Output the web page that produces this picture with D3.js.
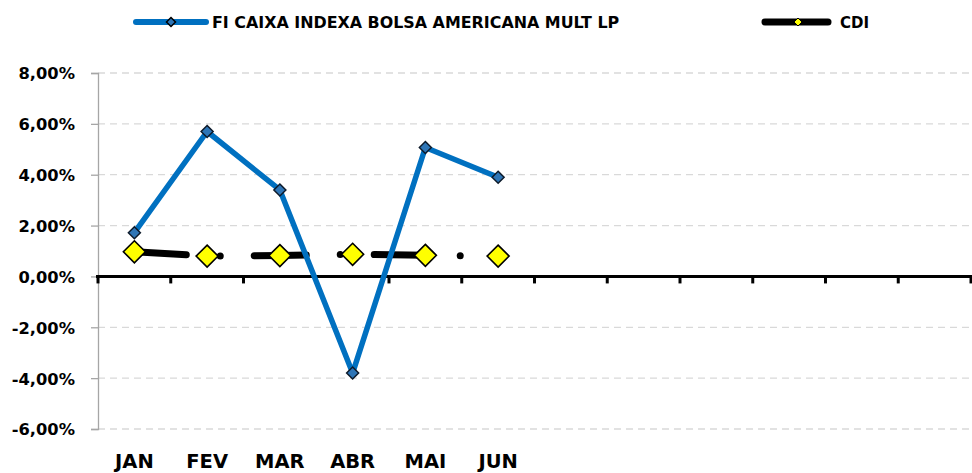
<!DOCTYPE html>
<html>
<head>
<meta charset="utf-8">
<script src="https://cdn.jsdelivr.net/npm/d3@7"></script>
<style>
  body { margin: 0; background: #fff; }
  svg { display: block; font-family: "DejaVu Sans", sans-serif; font-weight: bold; }
</style>
</head>
<body>
<svg id="chart" width="972" height="473"></svg>
<script>
// months on the axis (12 slots, only first six labelled)
const months = ["JAN", "FEV", "MAR", "ABR", "MAI", "JUN", "JUL", "AGO", "SET", "OUT", "NOV", "DEZ"];
const monthLabels = ["JAN", "FEV", "MAR", "ABR", "MAI", "JUN", "", "", "", "", "", ""];
const fundName = "FI CAIXA INDEXA BOLSA AMERICANA MULT LP";
const fundValues = [1.72, 5.70, 3.40, -3.80, 5.07, 3.90];
const cdiName = "CDI";
const cdiValues = [0.97, 0.80, 0.82, 0.87, 0.83, 0.80];
const yTicks = [-6, -4, -2, 0, 2, 4, 6, 8];

const svg = d3.select("#chart");

const x = d3.scaleBand().domain(months).range([98, 971]);
const y = d3.scaleLinear().domain([-6, 8]).range([429, 73]);
const fmt = v => v.toFixed(2).replace(".", ",") + "%";

// gridlines
svg.append("g").selectAll("line")
  .data(yTicks.filter(d => d !== 0))
  .join("line")
  .attr("x1", 98).attr("x2", 971)
  .attr("y1", d => y(d)).attr("y2", d => y(d))
  .attr("stroke", "#d9d9d9").attr("stroke-width", 1.3)
  .attr("stroke-dasharray", "7 5");

// y axis
const yAxis = svg.append("g").attr("transform", "translate(98,0)")
  .call(d3.axisLeft(y).tickValues(yTicks).tickSize(7).tickPadding(16).tickFormat(fmt));
yAxis.attr("font-family", null).attr("font-size", null);
yAxis.select(".domain").attr("stroke", "#a6a6a6").attr("stroke-width", 1.3);
yAxis.selectAll(".tick line").attr("stroke", "#a6a6a6").attr("stroke-width", 1.3);
yAxis.selectAll("text").attr("font-size", 16.3).attr("fill", "#000").attr("dy", "0.36em");

// x axis along zero
const xAxis = svg.append("g").attr("transform", `translate(0,${y(0)})`);
xAxis.append("line").attr("x1", 96).attr("x2", 972)
  .attr("y1", 0).attr("y2", 0).attr("stroke", "#000").attr("stroke-width", 3);
xAxis.selectAll("line.tk")
  .data(months.map(m => x(m)).concat([x.range()[1]]))
  .join("line").attr("class", "tk")
  .attr("x1", d => d).attr("x2", d => d)
  .attr("y1", 0).attr("y2", 7)
  .attr("stroke", "#000").attr("stroke-width", 3);
svg.append("g").selectAll("text")
  .data(months)
  .join("text")
  .attr("x", d => x(d) + x.bandwidth() / 2)
  .attr("y", 468)
  .attr("text-anchor", "middle")
  .attr("font-size", 19.5)
  .text((d, i) => monthLabels[i]);

const px = (d, i) => x(months[i]) + x.bandwidth() / 2;
const line = d3.line().x(px).y(d => y(d));

// CDI line (long dash dot)
svg.append("path").datum(cdiValues)
  .attr("d", line)
  .attr("fill", "none").attr("stroke", "#000").attr("stroke-width", 7)
  .attr("stroke-linecap", "round")
  .attr("stroke-dasharray", "52 34 0 34");

// fund line
svg.append("path").datum(fundValues)
  .attr("d", line)
  .attr("fill", "none").attr("stroke", "#0070c0").attr("stroke-width", 5.5)
  .attr("stroke-linejoin", "round");

const diamond = r => `M0,${-r}L${r},0L0,${r}L${-r},0Z`;

svg.append("g").selectAll("path")
  .data(fundValues)
  .join("path")
  .attr("transform", (d, i) => `translate(${px(d, i)},${y(d)})`)
  .attr("d", diamond(6))
  .attr("fill", "#2e75b6").attr("stroke", "#0d1a2a").attr("stroke-width", 1.5);

svg.append("g").selectAll("path")
  .data(cdiValues)
  .join("path")
  .attr("transform", (d, i) => `translate(${px(d, i)},${y(d)})`)
  .attr("d", diamond(11))
  .attr("fill", "#ffff00").attr("stroke", "#000").attr("stroke-width", 1.6);

// legend
const lg = svg.append("g");
lg.append("line").attr("x1", 136).attr("x2", 206).attr("y1", 22).attr("y2", 22)
  .attr("stroke", "#0070c0").attr("stroke-width", 6).attr("stroke-linecap", "round");
lg.append("path").attr("transform", "translate(171,22)").attr("d", diamond(4.5))
  .attr("fill", "#2e75b6").attr("stroke", "#000").attr("stroke-width", 1.5);
lg.append("text").attr("x", 212).attr("y", 27.5).attr("font-size", 15.9).text(fundName);

lg.append("line").attr("x1", 765).attr("x2", 828).attr("y1", 22).attr("y2", 22)
  .attr("stroke", "#000").attr("stroke-width", 7).attr("stroke-linecap", "round");
lg.append("path").attr("transform", "translate(798,22)").attr("d", diamond(4))
  .attr("fill", "#ffff00").attr("stroke", "#000").attr("stroke-width", 1);
lg.append("text").attr("x", 840).attr("y", 27.5).attr("font-size", 15).text(cdiName);
</script>
</body>
</html>
